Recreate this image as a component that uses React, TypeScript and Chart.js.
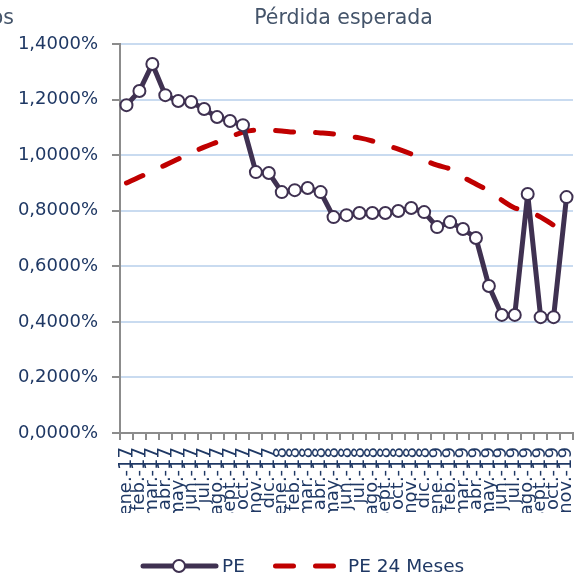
import React, { useEffect, useRef } from 'react';
import { Chart, registerables } from 'chart.js';
Chart.register(...registerables);

const categories = [
  'ene.-17', 'feb.-17', 'mar.-17', 'abr.-17', 'may.-17', 'jun.-17', 'jul.-17', 'ago.-17', 'sept.-17', 'oct.-17', 'nov.-17', 'dic.-17',
  'ene.-18', 'feb.-18', 'mar.-18', 'abr.-18', 'may.-18', 'jun.-18', 'jul.-18', 'ago.-18', 'sept.-18', 'oct.-18', 'nov.-18', 'dic.-18',
  'ene.-19', 'feb.-19', 'mar.-19', 'abr.-19', 'may.-19', 'jun.-19', 'jul.-19', 'ago.-19', 'sept.-19', 'oct.-19', 'nov.-19',
];

const pe = [
  1.180, 1.231, 1.328, 1.216, 1.195, 1.191, 1.166, 1.137, 1.123, 1.108, 0.939, 0.936,
  0.867, 0.874, 0.882, 0.867, 0.777, 0.784, 0.792, 0.792, 0.792, 0.799, 0.810, 0.795,
  0.741, 0.759, 0.734, 0.702, 0.529, 0.425, 0.425, 0.860, 0.417, 0.417, 0.849,
];

const pe24 = [
  0.900, 0.921, 0.943, 0.964, 0.986, 1.008, 1.029, 1.047, 1.065, 1.083, 1.090, 1.090,
  1.087, 1.083, 1.083, 1.080, 1.076, 1.069, 1.062, 1.051, 1.036, 1.022, 1.004, 0.982,
  0.964, 0.950, 0.921, 0.896, 0.871, 0.838, 0.810, 0.799, 0.777, 0.748, 0.723,
];

const yTicks = [0, 0.2, 0.4, 0.6, 0.8, 1.0, 1.2, 1.4];

const titleText = 'Pérdida esperada';
const cutText = 'os';
const seriesNames = ['PE', 'PE 24 Meses'];

const FONT = "'DejaVu Sans', Verdana, sans-serif";
const NAVY = '#1F3864';
const PURPLE = '#3F3151';
const RED = '#C00000';
const AXIS_GRAY = '#8C8C8C';
const GRID_BLUE = '#C9DBF0';

const fmt = (v: number) => v.toFixed(4).replace('.', ',') + '%';

const overlayPlugin = {
  id: 'overlay',
  afterDraw(chart: any) {
    const { ctx, chartArea } = chart;
    ctx.save();
    // title
    ctx.fillStyle = '#44546A';
    ctx.font = `20.5px ${FONT}`;
    ctx.textAlign = 'center';
    ctx.textBaseline = 'middle';
    ctx.fillText(titleText, (chartArea.left + chartArea.right) / 2 - 3, chartArea.top - 25);
    ctx.textAlign = 'right';
    ctx.fillText(cutText, 14, chartArea.top - 25);

    // legend
    const ly = chartArea.bottom + 133;
    let x = chartArea.left + 23;
    ctx.lineCap = 'round';
    ctx.strokeStyle = PURPLE;
    ctx.lineWidth = 5;
    ctx.beginPath();
    ctx.moveTo(x, ly);
    ctx.lineTo(x + 73, ly);
    ctx.stroke();
    ctx.beginPath();
    ctx.arc(x + 36, ly, 6, 0, Math.PI * 2);
    ctx.fillStyle = '#FFFFFF';
    ctx.fill();
    ctx.lineWidth = 2;
    ctx.stroke();
    ctx.fillStyle = NAVY;
    ctx.font = `18.5px ${FONT}`;
    ctx.textAlign = 'left';
    ctx.textBaseline = 'middle';
    ctx.fillText(seriesNames[0], x + 79, ly + 1);

    x = chartArea.left + 153;
    ctx.strokeStyle = RED;
    ctx.lineWidth = 5;
    ctx.setLineDash([18, 22]);
    ctx.beginPath();
    ctx.moveTo(x + 2.5, ly);
    ctx.lineTo(x + 63, ly);
    ctx.stroke();
    ctx.setLineDash([]);
    ctx.fillText(seriesNames[1], x + 75, ly + 1);
    ctx.restore();
  },
};

export default function App() {
  const ref = useRef<HTMLCanvasElement>(null);
  useEffect(() => {
    if (!ref.current) return;
    const chart = new Chart(ref.current, {
      type: 'line',
      data: {
        labels: categories,
        datasets: [
          {
            label: seriesNames[0],
            data: pe,
            borderColor: PURPLE,
            backgroundColor: '#FFFFFF',
            borderWidth: 5,
            borderJoinStyle: 'round',
            borderCapStyle: 'round',
            pointRadius: 6,
            pointBorderWidth: 2,
            pointBackgroundColor: '#FFFFFF',
            pointBorderColor: PURPLE,
            tension: 0,
            order: 0,
          },
          {
            label: seriesNames[1],
            data: pe24,
            borderColor: RED,
            borderWidth: 5,
            borderDash: [18, 22],
            borderCapStyle: 'round',
            pointRadius: 0,
            tension: 0.4,
            cubicInterpolationMode: 'monotone',
            order: 1,
          },
        ],
      },
      options: {
        animation: false,
        responsive: false,
        maintainAspectRatio: false,
        layout: { padding: { top: 44, left: 0, right: 0, bottom: 66 } },
        plugins: {
          legend: { display: false },
          title: { display: false },
          tooltip: { enabled: false },
        },
        scales: {
          x: {
            type: 'category',
            offset: true,
            grid: {
              display: true,
              offset: true,
              drawOnChartArea: false,
              drawTicks: true,
              tickLength: 7,
              tickColor: AXIS_GRAY,
              lineWidth: 2,
            },
            border: { display: true, color: AXIS_GRAY, width: 2 },
            ticks: {
              autoSkip: false,
              minRotation: 90,
              maxRotation: 90,
              padding: 7,
              color: NAVY,
              font: { family: FONT, size: 18 },
            },
            afterFit(scale: any) {
              scale.height = 80;
              scale.paddingLeft = 0;
              scale.paddingRight = 0;
            },
          },
          y: {
            min: 0,
            max: 1.4,
            afterBuildTicks(scale: any) {
              scale.ticks = yTicks.map((v) => ({ value: v }));
            },
            grid: {
              color: GRID_BLUE,
              lineWidth: 2,
              tickLength: 8,
              tickColor: AXIS_GRAY,
            },
            border: { display: true, color: AXIS_GRAY, width: 2 },
            ticks: {
              padding: 14,
              color: NAVY,
              font: { family: FONT, size: 18 },
              callback: (v: any) => fmt(Number(v)),
            },
            afterFit(scale: any) {
              scale.width = 120;
              scale.paddingTop = 0;
              scale.paddingBottom = 0;
            },
          },
        },
      },
      plugins: [overlayPlugin],
    });
    return () => chart.destroy();
  }, []);

  return (
    <div style={{ position: 'fixed', left: 0, top: 0, width: 581, height: 579, background: '#FFFFFF' }}>
      <canvas ref={ref} width={581} height={579} style={{ display: 'block', width: 581, height: 579 }} />
    </div>
  );
}
